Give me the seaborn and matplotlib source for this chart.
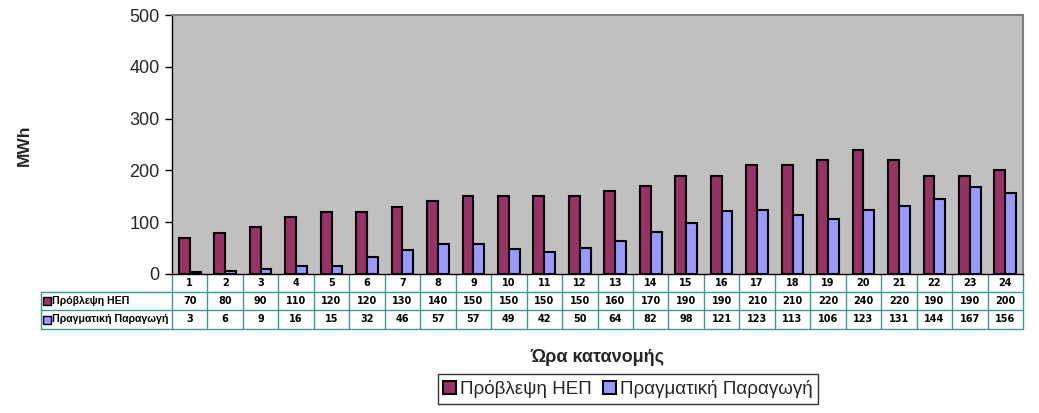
import numpy as np
import pandas as pd
import matplotlib
matplotlib.use('Agg')
import matplotlib.pyplot as plt
import matplotlib.transforms as mtransforms
from matplotlib.patches import Rectangle
from matplotlib.lines import Line2D
import seaborn as sns

# -------------------------------
# Data
# -------------------------------
hours = [str(h) for h in range(1, 25)]
forecast = [70, 80, 90, 110, 120, 120, 130, 140, 150, 150, 150, 150,
            160, 170, 190, 190, 210, 210, 220, 240, 220, 190, 190, 200]
actual = [3, 6, 9, 16, 15, 32, 46, 57, 57, 49, 42, 50,
          64, 82, 98, 121, 123, 113, 106, 123, 131, 144, 167, 156]
series = ['Πρόβλεψη ΗΕΠ', 'Πραγματική Παραγωγή']
colors = ['#993366', '#9999FF']

df = pd.DataFrame({
    'hour': hours * 2,
    'MWh': forecast + actual,
    'series': [series[0]] * len(hours) + [series[1]] * len(hours),
})

sns.set_style('white')
plt.rcParams['font.family'] = ['Liberation Sans', 'DejaVu Sans']

W, H = 1039, 413
fig = plt.figure(figsize=(W / 100, H / 100), dpi=100)
ax = fig.add_axes([172 / W, 1 - 274 / H, 851 / W, 259 / H])

sns.barplot(data=df, x='hour', y='MWh', hue='series', order=hours, hue_order=series,
            palette=colors, width=0.61, saturation=1, errorbar=None,
            edgecolor='black', linewidth=1.5, legend=False, ax=ax)

ax.set_facecolor('#C0C0C0')
ax.set_xlim(-0.5, len(hours) - 0.5)
ax.set_ylim(0, 500)
ax.set_yticks(range(0, 501, 100))
ax.set_xticks([])
ax.set_xlabel('')
ax.set_ylabel('')
ax.tick_params(axis='y', which='both', left=True, length=5, width=1, color='black',
               labelsize=13, pad=4)
for s in ['top', 'right']:
    ax.spines[s].set_color('#808080')
    ax.spines[s].set_linewidth(1.5)
ax.spines['left'].set_color('black')
ax.spines['bottom'].set_color('black')
ax.spines['left'].set_linewidth(1)
ax.spines['bottom'].set_linewidth(1)

# -------------------------------
# Data table under the axis
# -------------------------------
trans = mtransforms.blended_transform_factory(ax.transData, ax.transAxes)
teal = '#3A9A9A'
rh = 18.2 / 259
x0 = -0.5
x1 = len(hours) - 0.5
xl = -0.154  # left edge of row labels (axes fraction)
lfont = dict(family='Liberation Sans', weight='bold', fontsize=7.6, color='black')
nfont = dict(family='DejaVu Sans', weight='bold', fontsize=7, color='black')

def hline(xa, xb, y, tr):
    ax.add_line(Line2D([xa, xb], [y, y], color=teal, lw=1, transform=tr, clip_on=False))

def vline(x, ya, yb, tr):
    ax.add_line(Line2D([x, x], [ya, yb], color=teal, lw=1, transform=tr, clip_on=False))

# horizontal lines
for k in range(1, 4):
    hline(x0, x1, -k * rh, trans)
    hline(xl, 0, -k * rh, ax.transAxes)
# vertical lines
for i in range(len(hours) + 1):
    vline(i - 0.5, 0, -3 * rh, trans)
vline(xl, -rh, -3 * rh, ax.transAxes)

for i, h in enumerate(hours):
    ax.text(i, -0.5 * rh, h, ha='center', va='center', transform=trans, **nfont)
    ax.text(i, -1.5 * rh, str(forecast[i]), ha='center', va='center', transform=trans, **nfont)
    ax.text(i, -2.5 * rh, str(actual[i]), ha='center', va='center', transform=trans, **nfont)

for r, (name, col) in enumerate(zip(series, colors)):
    yc = -(1.5 + r) * rh
    ax.plot([xl + 0.007], [yc], marker='s', ms=5.5, mfc=col, mec='black', mew=1,
            transform=ax.transAxes, clip_on=False)
    ax.text(xl + 0.0125, yc, name, ha='left', va='center', transform=ax.transAxes, **lfont)

# -------------------------------
# Labels and legend
# -------------------------------
fig.text(24 / W, 1 - 145 / H, 'MWh', rotation=90, ha='center', va='center',
         fontsize=12.5, fontweight='bold')
fig.text(597 / W, 1 - 357 / H, 'Ώρα κατανομής', ha='center', va='center',
         fontsize=13, fontweight='bold')

handles = [Rectangle((0, 0), 1, 1, facecolor=c, edgecolor='black', lw=1.5) for c in colors]
leg = fig.legend(handles, series, loc='center', bbox_to_anchor=(628 / W, 1 - 389 / H),
                 ncol=2, fontsize=13.5, frameon=True, fancybox=False, handlelength=0.7,
                 handleheight=0.7, handletextpad=0.2, columnspacing=0.6, borderpad=0.3,
                 borderaxespad=0)
leg.get_frame().set_edgecolor('black')
leg.get_frame().set_linewidth(1)

fig.savefig('out.png', dpi=100)
